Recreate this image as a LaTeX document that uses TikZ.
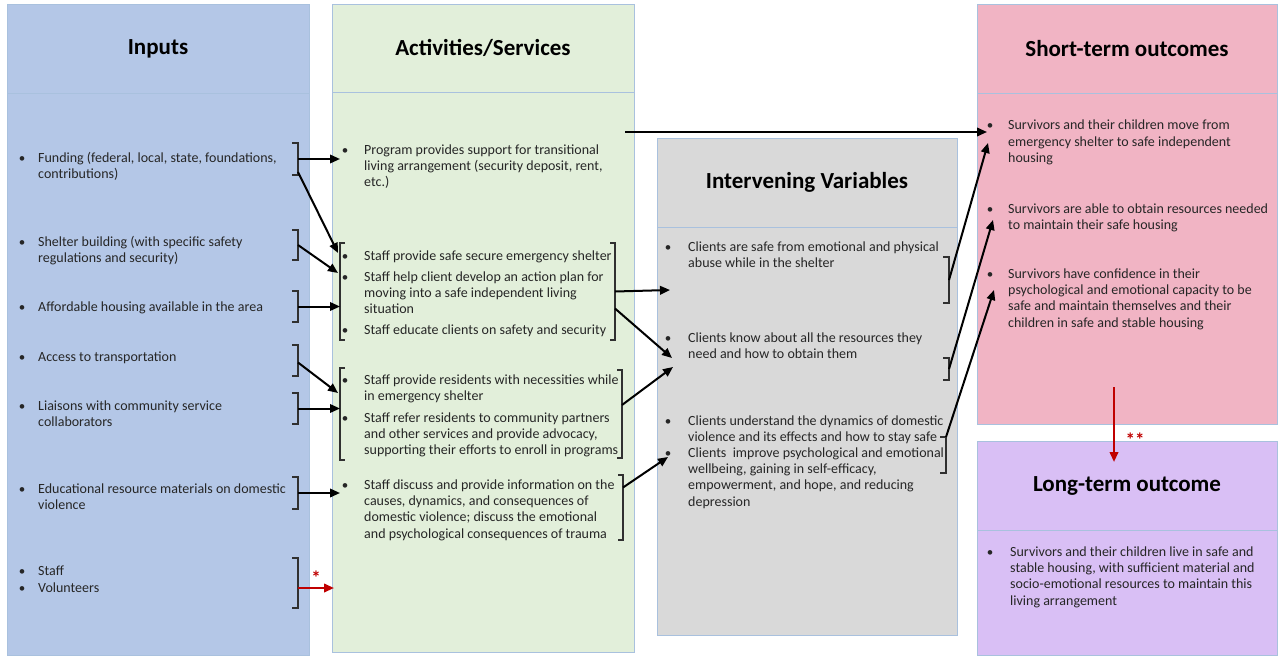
\documentclass[tikz,border=0pt]{standalone}
\usepackage{fontspec}
\setmainfont{Carlito}
\usetikzlibrary{arrows.meta,calc}

\definecolor{inblue}{HTML}{B4C7E7}
\definecolor{actgreen}{HTML}{E2EFDA}
\definecolor{intgray}{HTML}{D9D9D9}
\definecolor{stpink}{HTML}{F1B4C4}
\definecolor{ltlav}{HTML}{D9BFF5}
\definecolor{edge}{HTML}{A9C1DE}
\definecolor{txt}{HTML}{262626}
\definecolor{brkc}{HTML}{303030}
\definecolor{redc}{HTML}{C00000}

% text block whose baseline is that of its first line
\newcommand\tblock[1]{\parbox[t]{330pt}{\raggedright #1}}

\tikzset{
  hdr/.style={draw=edge, line width=0.8pt, inner sep=0pt, outer sep=0pt,
    font=\fontsize{23}{27}\selectfont\bfseries, text=black},
  panel/.style={draw=edge, line width=0.8pt, inner sep=0pt, outer sep=0pt},
  bul/.style={anchor=base, inner sep=0pt, font=\fontsize{13}{16}\selectfont, text=txt},
  itm/.style={anchor=base west, inner sep=0pt, font=\fontsize{14}{16.4}\selectfont, text=txt},
  brk/.style={rectangle, inner sep=0pt, outer sep=0pt, minimum width=6pt},
  brkline/.style={draw=brkc, line width=1.5pt},
  arr/.style={draw=black, line width=2pt, -{Triangle[length=10pt,width=8.5pt]}},
  redarr/.style={draw=redc, line width=2.2pt, -{Triangle[length=10pt,width=8.5pt]}},
  star/.style={inner sep=0pt, text=redc, font=\fontsize{19}{20}\selectfont\bfseries},
}

\newcommand\rbrk[1]{\draw[brkline] (#1.north west) -- (#1.north east) -- (#1.south east) -- (#1.south west);}
\newcommand\lbrk[1]{\draw[brkline] (#1.north east) -- (#1.north west) -- (#1.south west) -- (#1.south east);}

\begin{document}
\begin{tikzpicture}[x=1pt,y=-1pt]
\useasboundingbox[fill=white] (0,0) rectangle (1279,658);

% ---------- panels ----------
\node[hdr, fill=inblue, minimum width=302pt, minimum height=89pt] (hIn) at (158,48.5) {Inputs};
\node[panel, fill=inblue, minimum width=302pt, minimum height=562pt] (pIn) at (158,374) {};
\node[hdr, fill=actgreen, minimum width=302pt, minimum height=88pt] (hAc) at (483,48) {Activities/Services};
\node[panel, fill=actgreen, minimum width=302pt, minimum height=560pt] (pAc) at (483,372) {};
\node[hdr, fill=intgray, minimum width=300pt, minimum height=89pt] (hIv) at (807,182.5) {Intervening Variables};
\node[panel, fill=intgray, minimum width=300pt, minimum height=408pt] (pIv) at (807,431) {};
\node[hdr, fill=stpink, minimum width=300pt, minimum height=89pt] (hSt) at (1127,48.5) {Short-term outcomes};
\node[panel, fill=stpink, minimum width=300pt, minimum height=331pt] (pSt) at (1127,258.5) {};
\node[hdr, fill=ltlav, minimum width=300pt, minimum height=89pt] (hLt) at (1127,485.5) {Long-term outcome};
\node[panel, fill=ltlav, minimum width=300pt, minimum height=125pt] (pLt) at (1127,592.5) {};

% ---------- inputs ----------
\node[bul] (uIn1) at (22,162) {•};
\node[itm] (in1) at (38,162) {\tblock{Funding (federal, local, state, foundations,\\contributions)}};
\node[bul] (uIn2) at (22,246) {•};
\node[itm] (in2) at (38,246) {\tblock{Shelter building (with specific safety\\regulations and security)}};
\node[bul] (uIn3) at (22,311) {•};
\node[itm] (in3) at (38,311) {\tblock{Affordable housing available in the area}};
\node[bul] (uIn4) at (22,361) {•};
\node[itm] (in4) at (38,361) {\tblock{Access to transportation}};
\node[bul] (uIn5) at (22,410) {•};
\node[itm] (in5) at (38,410) {\tblock{Liaisons with community service\\collaborators}};
\node[bul] (uIn6) at (22,493) {•};
\node[itm] (in6) at (38,493) {\tblock{Educational resource materials on domestic\\violence}};
\node[bul] (uIn7) at (22,575) {•};
\node[itm] (in7) at (38,575) {\tblock{Staff}};
\node[bul] (uIn8) at (22,592) {•};
\node[itm] (in8) at (38,592) {\tblock{Volunteers}};

% ---------- activities ----------
\node[bul] (uAc1) at (345,154) {•};
\node[itm] (ac1) at (364,154) {\tblock{Program provides support for transitional\\living arrangement (security deposit, rent,\\etc.)}};
\node[bul] (uAc2) at (345,260) {•};
\node[itm] (ac2) at (364,260) {\tblock{Staff provide safe secure emergency shelter}};
\node[bul] (uAc3) at (345,281) {•};
\node[itm] (ac3) at (364,281) {\tblock{Staff help client develop an action plan for\\moving into a safe independent living\\situation}};
\node[bul] (uAc4) at (345,334) {•};
\node[itm] (ac4) at (364,334) {\tblock{Staff educate clients on safety and security}};
\node[bul] (uAc5) at (345,384) {•};
\node[itm] (ac5) at (364,384) {\tblock{Staff provide residents with necessities while\\in emergency shelter}};
\node[bul] (uAc6) at (345,422) {•};
\node[itm] (ac6) at (364,422) {\tblock{Staff refer residents to community partners\\and other services and provide advocacy,\\supporting their efforts to enroll in programs}};
\node[bul] (uAc7) at (345,489) {•};
\node[itm] (ac7) at (364,489) {\tblock{Staff discuss and provide information on the\\causes, dynamics, and consequences of\\domestic violence; discuss the emotional\\and psychological consequences of trauma}};

% ---------- intervening variables ----------
\node[bul] (uIv1) at (668,251) {•};
\node[itm] (iv1) at (688,251) {\tblock{Clients are safe from emotional and physical\\abuse while in the shelter}};
\node[bul] (uIv2) at (668,342) {•};
\node[itm] (iv2) at (688,342) {\tblock{Clients know about all the resources they\\need and how to obtain them}};
\node[bul] (uIv3) at (668,425) {•};
\node[itm] (iv3) at (688,425) {\tblock{Clients understand the dynamics of domestic\\violence and its effects and how to stay safe}};
\node[bul] (uIv4) at (668,457) {•};
\node[itm] (iv4) at (688,457) {\tblock{Clients\ \ improve psychological and emotional\\wellbeing, gaining in self-efficacy,\\empowerment, and hope, and reducing\\depression}};

% ---------- short-term outcomes ----------
\node[bul] (uSt1) at (990,130) {•};
\node[itm] (st1) at (1008,130) {\tblock{Survivors and their children move from\\emergency shelter to safe independent\\housing}};
\node[bul] (uSt2) at (990,213) {•};
\node[itm] (st2) at (1008,213) {\tblock{Survivors are able to obtain resources needed\\to maintain their safe housing}};
\node[bul] (uSt3) at (990,278) {•};
\node[itm] (st3) at (1008,278) {\tblock{Survivors have confidence in their\\psychological and emotional capacity to be\\safe and maintain themselves and their\\children in safe and stable housing}};

% ---------- long-term outcome ----------
\node[bul] (uLt1) at (990,556) {•};
\node[itm] (lt1) at (1010,556) {\tblock{Survivors and their children live in safe and\\stable housing, with sufficient material and\\socio-emotional resources to maintain this\\living arrangement}};

% ---------- brackets ----------
\node[brk, minimum height=32pt] (bI1) at (295,159) {};
\node[brk, minimum height=30pt] (bI2) at (295,245) {};
\node[brk, minimum height=31pt] (bI3) at (295,306.5) {};
\node[brk, minimum height=31pt] (bI4) at (295,360.5) {};
\node[brk, minimum height=31pt] (bI5) at (295,408.5) {};
\node[brk, minimum height=32pt] (bI6) at (295,493) {};
\node[brk, minimum height=50pt] (bI7) at (295,583) {};
\foreach \b in {bI1,bI2,bI3,bI4,bI5,bI6,bI7} {\rbrk{\b}}

\node[brk, minimum width=5pt, minimum height=97pt] (bA1L) at (342.5,291.5) {};
\node[brk, minimum width=5pt, minimum height=97pt] (bA1R) at (612.5,291.5) {};
\node[brk, minimum width=5pt, minimum height=92pt] (bA2L) at (342.5,414) {};
\node[brk, minimum width=5pt, minimum height=88pt] (bA2R) at (619.5,414) {};
\node[brk, minimum width=5pt, minimum height=65pt] (bA3R) at (620.5,507.5) {};
\lbrk{bA1L} \rbrk{bA1R} \lbrk{bA2L} \rbrk{bA2R} \rbrk{bA3R}

\node[brk, minimum height=46pt] (bV1) at (946,280) {};
\node[brk, minimum height=22pt] (bV2) at (946,369) {};
\node[brk, minimum height=36pt] (bV3) at (943,455) {};
\rbrk{bV1} \rbrk{bV2} \rbrk{bV3}

% ---------- arrow ends ----------
\coordinate (tA1) at (340,159);
\coordinate (tA2) at (338,253);
\coordinate (tA3) at (338,273);
\coordinate (tA4) at (340,306.5);
\coordinate (tA5) at (338,393);
\coordinate (tA6) at (340,408.5);
\coordinate (tA7) at (340,493);
\coordinate (tA8) at (334,588);
\coordinate (sP) at (625,132);
\coordinate (tS1) at (987,132);
\coordinate (tV1) at (670,290);
\coordinate (tV2) at (672,358);
\coordinate (tV3) at (673,367);
\coordinate (tV4) at (668,457);
\coordinate (tS2) at (988,143);
\coordinate (tS3) at (993,220);
\coordinate (tS4) at (994,290);

% ---------- connectors ----------
\draw[arr] (bI1.east) -- (tA1);
\draw[arr] ($(bI1.south east)+(0,-3)$) -- (tA2);
\draw[arr] (bI2.east) -- (tA3);
\draw[arr] (bI3.east) -- (tA4);
\draw[arr] ($(bI4.east)+(0,2)$) -- (tA5);
\draw[arr] (bI5.east) -- (tA6);
\draw[arr] (bI6.east) -- (tA7);
\draw[redarr] ($(bI7.east)+(0,5)$) -- (tA8);
\node[star] (s1) at (316,578) {*};

\draw[arr] (sP) -- (tS1);
\draw[arr] (bA1R.east) -- (tV1);
\draw[arr] ($(bA1R.east)+(0,17)$) -- (tV2);
\draw[arr] ($(bA2R.east)+(0,-9)$) -- (tV3);
\draw[arr] ($(bA3R.east)+(0,-20)$) -- (tV4);

\draw[arr] (bV1.east) -- (tS2);
\draw[arr] (bV2.east) -- (tS3);
\draw[arr] (bV3.north east) -- (tS4);

\coordinate (rTop) at (1114,387);
\coordinate (rEnd) at (1114,462);
\draw[redarr] (rTop) -- (rEnd);
\node[star] (s2) at (1135,440) {**};

\end{tikzpicture}
\end{document}
